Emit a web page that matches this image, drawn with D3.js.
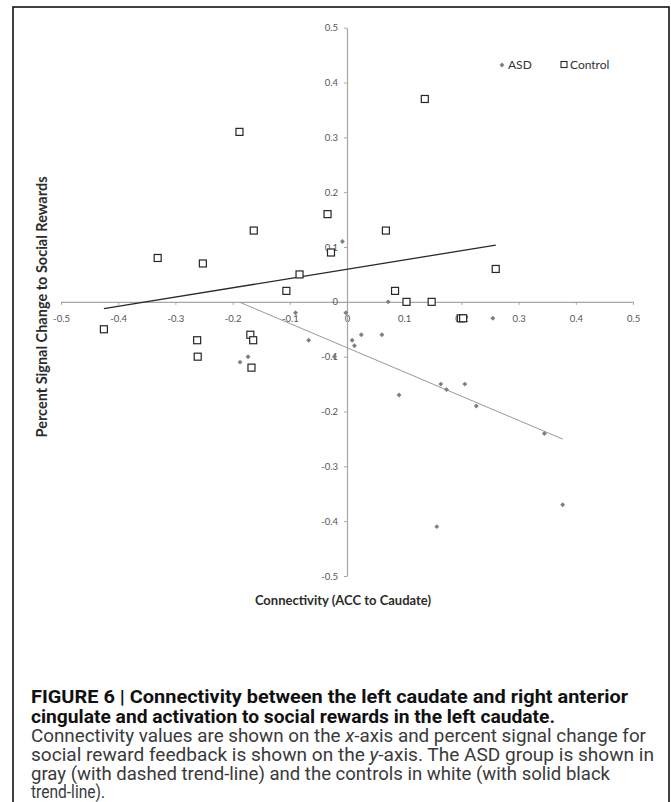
<!DOCTYPE html>
<html>
<head>
<meta charset="utf-8">
<script src="https://cdn.jsdelivr.net/npm/d3@7"></script>
<style>
  body { margin: 0; background: #fff; }
  svg { display: block; }
</style>
</head>
<body>
<div id="chart"></div>
<script>
// data
const asdX = [-0.008, 0.072, -0.09, -0.002, 0.255, -0.067, 0.009, 0.013, 0.025, 0.061, -0.173, -0.187, -0.022, 0.164, 0.174, 0.206, 0.091, 0.226, 0.345, 0.377, 0.157];
const asdY = [0.11, 0, -0.02, -0.02, -0.03, -0.07, -0.07, -0.08, -0.06, -0.06, -0.10, -0.11, -0.10, -0.15, -0.16, -0.15, -0.17, -0.19, -0.24, -0.37, -0.41];

const controlX = [0.136, -0.188, -0.034, -0.163, 0.068, -0.331, -0.252, -0.028, -0.083, -0.106, 0.084, 0.104, 0.148, 0.26, 0.199, 0.203, -0.425, -0.262, -0.261, -0.169, -0.164, -0.167];
const controlY = [0.37, 0.31, 0.16, 0.13, 0.13, 0.08, 0.07, 0.09, 0.05, 0.02, 0.02, 0, 0, 0.06, -0.03, -0.03, -0.05, -0.07, -0.10, -0.06, -0.07, -0.12];

// linear trend lines (slope, intercept) as drawn in the figure
const asdTrend = [-0.442, -0.0836];
const controlTrend = [0.169, 0.0595];

const xTicks = [-0.5, -0.4, -0.3, -0.2, -0.1, 0, 0.1, 0.2, 0.3, 0.4, 0.5];
const yTicks = [-0.5, -0.4, -0.3, -0.2, -0.1, 0, 0.1, 0.2, 0.3, 0.4, 0.5];

const legendKeys = ["ASD", "Control"];

const captionLines = [
  {text: "FIGURE 6 | Connectivity between the left caudate and right anterior", bold: true, w: 597},
  {text: "cingulate and activation to social rewards in the left caudate.", bold: true, w: 524},
  {text: ["Connectivity values are shown on the ", "x", "-axis and percent signal change for"], bold: false, w: 615},
  {text: ["social reward feedback is shown on the ", "y", "-axis. The ASD group is shown in"], bold: false, w: 623},
  {text: "gray (with dashed trend-line) and the controls in white (with solid black", bold: false, w: 579},
  {text: "trend-line).", bold: false, w: 74}
];

const W = 671, H = 802;
const axisColor = "#a6a6a6";
const labelFont = "Lato, 'Open Sans', sans-serif";

const svg = d3.select("#chart")
  .append("svg")
    .attr("width", W)
    .attr("height", H);

// outer frame
svg.append("rect")
  .attr("x", 13).attr("y", 7)
  .attr("width", 656).attr("height", 810)
  .attr("fill", "none")
  .attr("stroke", "#111")
  .attr("stroke-width", 1.6);

const x = d3.scaleLinear().domain([-0.5, 0.5]).range([61, 633]);
const y = d3.scaleLinear().domain([-0.5, 0.5]).range([576, 27.7]);

const fmt = d => d === 0 ? "0" : d.toFixed(1);

// x axis crossing at y = 0
const gx = svg.append("g")
  .attr("transform", `translate(0,${y(0)})`)
  .call(d3.axisBottom(x).tickValues(xTicks).tickFormat(fmt).tickSize(3).tickSizeOuter(0).tickPadding(10));

// y axis crossing at x = 0
const gy = svg.append("g")
  .attr("transform", `translate(${x(0)},0)`)
  .call(d3.axisLeft(y).tickValues(yTicks).tickFormat(fmt).tickSize(3).tickSizeOuter(0).tickPadding(6));

[gx, gy].forEach(g => {
  g.select(".domain").attr("stroke", axisColor).attr("stroke-width", 1.2);
  g.selectAll(".tick line").attr("stroke", axisColor);
  g.selectAll(".tick text")
    .attr("fill", "#555")
    .style("font-family", labelFont)
    .style("font-size", "9.5px");
});

// trend lines over each group's x range
function trend(xs, coef) {
  const ext = d3.extent(xs);
  return ext.map(v => [v, coef[0] * v + coef[1]]);
}
const line = d3.line().x(d => x(d[0])).y(d => y(d[1]));

svg.append("path")
  .datum(trend(controlX, controlTrend))
  .attr("d", line)
  .attr("stroke", "#2a2a2a")
  .attr("stroke-width", 1.3)
  .attr("fill", "none");

svg.append("path")
  .datum(trend(asdX, asdTrend))
  .attr("d", line)
  .attr("stroke", "#999")
  .attr("stroke-width", 1)
  .attr("fill", "none");

// ASD: small gray diamonds
const diamond = d3.symbol().type(d3.symbolSquare).size(12);
svg.append("g")
  .selectAll("path")
  .data(asdX.map((v, i) => [v, asdY[i]]))
  .join("path")
    .attr("d", diamond)
    .attr("transform", d => `translate(${x(d[0])},${y(d[1])}) rotate(45)`)
    .attr("fill", "#7f7f7f");

// Control: open squares
svg.append("g")
  .selectAll("rect")
  .data(controlX.map((v, i) => [v, controlY[i]]))
  .join("rect")
    .attr("x", d => x(d[0]) - 3.5)
    .attr("y", d => y(d[1]) - 3.5)
    .attr("width", 7)
    .attr("height", 7)
    .attr("fill", "#fff")
    .attr("stroke", "#262626")
    .attr("stroke-width", 1.2);

// legend
const leg = svg.append("g");
leg.append("path")
  .attr("d", diamond)
  .attr("transform", "translate(502,65) rotate(45)")
  .attr("fill", "#7f7f7f");
leg.append("rect")
  .attr("x", 561).attr("y", 61.5)
  .attr("width", 6).attr("height", 6)
  .attr("fill", "#fff")
  .attr("stroke", "#262626")
  .attr("stroke-width", 1.1);
leg.selectAll("text")
  .data(legendKeys)
  .join("text")
    .attr("x", (d, i) => i === 0 ? 508 : 570)
    .attr("y", 69)
    .attr("fill", "#333")
    .style("font-family", labelFont)
    .style("font-size", "12px")
    .text(d => d);

// axis titles
svg.append("text")
  .attr("x", 343)
  .attr("y", 605)
  .attr("text-anchor", "middle")
  .attr("fill", "#2b2b2b")
  .style("font-family", labelFont)
  .style("font-weight", "bold")
  .style("font-size", "13px")
  .text("Connectivity (ACC to Caudate)");

svg.append("text")
  .attr("transform", "translate(47,307) rotate(-90)")
  .attr("text-anchor", "middle")
  .attr("fill", "#2b2b2b")
  .style("font-family", labelFont)
  .style("font-weight", "bold")
  .style("font-size", "14.5px")
  .text("Percent Signal Change to Social Rewards");

// caption
const capY = [703, 723, 742, 761, 780, 798];
captionLines.forEach((c, i) => {
  const t = svg.append("text")
    .attr("x", 31)
    .attr("y", capY[i])
    .attr("fill", c.bold ? "#111" : "#3a3a3a")
    .attr("textLength", c.w)
    .attr("lengthAdjust", "spacingAndGlyphs")
    .style("font-family", "'Liberation Sans Narrow', Roboto, sans-serif")
    .style("font-weight", c.bold ? "bold" : "normal")
    .style("font-size", "17.5px");
  if (Array.isArray(c.text)) {
    c.text.forEach((s, j) => {
      t.append("tspan").style("font-style", j === 1 ? "italic" : "normal").text(s);
    });
  } else {
    t.text(c.text);
  }
});
</script>
</body>
</html>
